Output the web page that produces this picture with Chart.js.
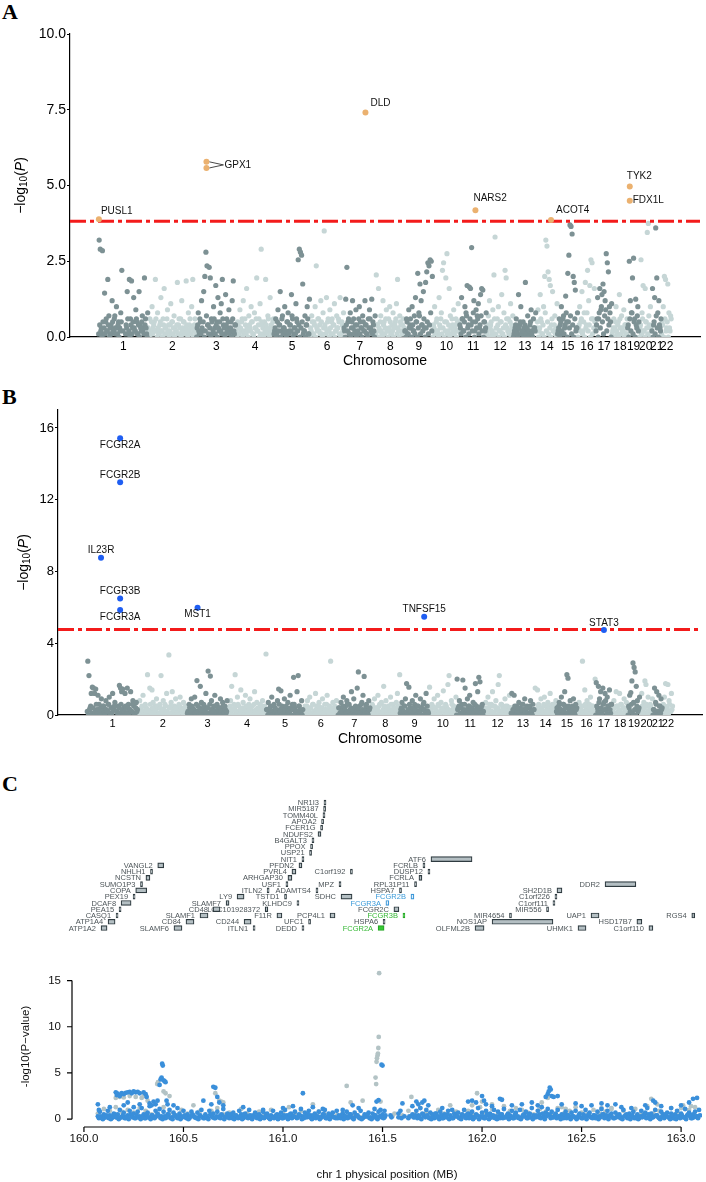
<!DOCTYPE html>
<html>
<head>
<meta charset="utf-8">
<script src="https://cdn.jsdelivr.net/npm/chart.js@4.4.1/dist/chart.umd.min.js"></script>
<style>
  body { margin: 0; background: #fff; }
  #wrap { position: relative; width: 706px; height: 1182px; overflow: hidden; background: #fff; }
  #wrap canvas { position: absolute; left: 0; }
  .tag { position: absolute; left: 2px; font: bold 22px "Liberation Serif", serif; line-height: 22px; color: #000; }
</style>
</head>
<body>
<div id="wrap">
  <div class="tag" style="top:1px">A</div>
  <div class="tag" style="top:386px">B</div>
  <div class="tag" style="top:773px">C</div>
  <canvas id="chartA" width="706" height="372" style="top:0"></canvas>
  <canvas id="chartB" width="706" height="370" style="top:380px"></canvas>
  <canvas id="chartGenes" width="706" height="150" style="top:790px"></canvas>
  <canvas id="chartC" width="706" height="232" style="top:950px"></canvas>
</div>
<script>
// chromosome layout (hg19 lengths, Mb)
const chromNames = ['1','2','3','4','5','6','7','8','9','10','11','12','13','14','15','16','17','18','19','20','21','22']
const chromLenMb = [249.3,243.2,198.0,191.2,180.9,171.1,159.1,146.4,141.2,135.5,135.0,133.9,115.2,107.3,102.5,90.4,81.2,78.1,59.1,63.0,48.1,51.3]
const genomeMin = -144
const genomeMax = 3023

// panel A : -log10(P) of SNPs, per chromosome, in genome order
const bgA = [
  [3.2,2.9,0.3,2.85,0.1,1.45,0.5,0.2,1.9,0.7,0.1,0.4,1.2,0.2,0.6,0.3,1.0,0.1,0.5,0.3,0.8,2.2,0.2,null,null,0.4,1.5,0.1,1.9,0.6,1.85,0.3,1.3,0.2,0.9,0.5,0.1,1.5,0.4,0.2,0.7,0.3,1.95,0.6,0.1,0.8],
  [0.2,0.6,0.1,1.0,0.3,0.5,1.9,0.2,0.8,0.1,0.4,1.3,0.2,0.6,1.6,0.3,0.1,0.9,0.4,0.2,1.1,0.5,0.1,0.7,0.3,0.2,1.8,0.4,0.1,0.6,1.2,0.3,0.5,0.2,1.85,0.1,0.8,0.4,0.3,1.0,1.9,0.2,0.6,0.1],
  [0.3,0.8,0.1,0.5,1.2,0.2,1.5,2.0,2.8,2.35,0.4,2.3,1.95,0.6,0.1,1.0,0.3,1.7,0.5,1.3,0.2,0.8,1.1,1.9,0.4,0.1,1.4,0.6,0.3,0.9,0.2,0.5,1.2,1.85,0.1,0.4],
  [0.1,0.5,0.3,0.9,0.2,0.6,1.2,0.1,0.4,1.6,0.2,0.7,0.3,1.0,0.5,0.1,0.8,0.3,1.95,0.2,0.6,1.1,2.9,0.4,0.1,0.5,1.9,0.3,0.7,0.2,1.3,0.4,0.1,0.6],
  [0.2,0.6,0.1,0.9,0.4,1.5,0.2,0.7,0.3,1.0,0.1,0.5,0.8,0.2,0.4,1.4,0.6,0.1,0.3,1.1,0.5,2.55,2.9,2.8,2.7,1.75,0.2,0.7,0.4,1.0,0.1,1.25],
  [0.3,0.7,0.1,0.5,1.0,2.35,0.2,0.6,0.4,1.2,0.1,0.8,3.5,0.3,1.3,0.5,0.2,0.9,0.1,0.6,0.4,1.1,0.2,0.7,0.3,0.5,1.3,0.1,0.4,0.8],
  [0.2,1.25,2.3,0.5,0.1,0.8,0.3,1.2,0.6,0.2,0.9,0.4,0.1,1.0,0.5,0.3,0.7,0.2,1.2,0.4,0.1,0.6,0.9,0.3,1.25,0.5,0.2,0.7],
  [2.05,0.4,1.6,0.2,0.7,0.1,1.2,0.5,0.3,0.9,0.2,0.6,1.0,0.1,0.4,0.8,0.3,0.5,1.1,1.9,0.2,0.7,0.4,0.1,0.6,0.3],
  [0.2,0.6,0.1,0.9,0.4,0.3,1.0,0.2,0.7,1.3,0.5,2.1,0.8,1.75,1.2,0.4,1.5,0.3,1.8,2.15,2.45,2.35,2.55,2.5,2.0],
  [0.4,1.0,0.2,0.6,0.1,1.3,0.3,0.8,2.2,2.45,0.5,1.95,2.75,0.2,1.6,0.7,0.1,0.4,0.9,0.3,0.6,0.2,1.1,0.5],
  [0.3,1.3,0.6,0.2,1.0,0.8,1.7,0.4,1.65,1.6,2.95,0.5,1.2,0.2,0.9,0.7,1.1,0.3,1.4,1.6,1.55,0.5,0.2,0.8],
  [0.2,0.7,1.2,0.4,0.1,0.9,2.05,3.3,0.3,0.6,1.0,0.2,0.5,1.4,0.1,0.8,2.2,1.95,0.3,0.6,0.2,1.1,0.4,0.7],
  [0.1,0.3,0.6,0.2,1.4,0.4,1.0,0.1,0.5,0.3,1.8,0.2,0.7,0.1,0.4,0.9,0.2,0.6,0.3,0.8],
  [0.3,0.9,0.2,1.4,0.5,0.1,1.0,2.0,3.2,3.0,2.15,1.9,1.7,0.4,1.5,0.2,0.7,0.3,1.1],
  [0.2,0.6,0.4,1.0,0.1,0.7,0.3,1.35,0.5,2.1,2.7,3.7,3.65,3.4,2.0,1.8,1.55,0.3,0.8],
  [0.3,1.0,0.5,1.5,0.2,0.8,1.8,0.4,2.2,1.2,1.7,2.55,2.45,0.6,1.6,0.3],
  [0.4,1.3,0.6,1.6,0.9,1.4,1.75,1.5,1.2,2.75,2.45,2.15,1.0,0.5,1.1],
  [0.2,0.6,0.3,1.0,0.1,0.5,1.4,0.3,0.7,0.2,0.9,0.4,0.1,0.6],
  [0.4,2.5,1.2,0.8,1.95,2.6,0.6,1.25,0.3,1.0,0.5],
  [0.3,2.55,0.8,1.7,0.2,1.6,0.5,3.45,3.75,0.4,1.0,0.2],
  [1.6,0.4,1.3,3.6,1.95,0.8,1.2,0.3,0.6],
  [0.5,1.0,2.0,1.9,0.3,1.75,0.8,0.2,0.6]
]
// the many weak SNPs that form the solid bottom band
const lowA = [
  [0.1,0.4,0.2,0.0,0.5,0.3,0.1,0.6,0.2,0.4,0.0,0.3,0.1,0.5,0.2,0.7,0.1,0.3,0.4,0.0,0.2,0.5,null,null,null,0.1,0.3,0.6,0.2,0.0,0.4,0.1,0.5,0.3,0.2,0.6,0.1,0.4,0.0,0.3,0.5,0.2,0.1,0.4,0.3,0.0],
  [0.3,0.0,0.2,0.5,0.1,0.4,0.2,0.6,0.0,0.3,0.1,0.5,0.2,0.0,0.4,0.1,0.3,0.6,0.2,0.0,0.4,0.1,0.5,0.3,0.0,0.2,0.4,0.1,0.6,0.3,0.0,0.2,0.5,0.1,0.3,0.4,0.0,0.2,0.6,0.1,0.3,0.0,0.4,0.2],
  [0.0,0.4,0.2,0.6,0.1,0.3,0.5,0.0,0.2,0.7,0.4,0.1,0.3,0.0,0.5,0.2,0.6,0.1,0.4,0.0,0.3,0.5,0.2,0.1,0.6,0.3,0.0,0.4,0.2,0.5,0.1,0.3,0.0,0.6,0.2,0.4],
  [0.2,0.0,0.4,0.1,0.3,0.5,0.0,0.2,0.6,0.1,0.3,0.0,0.4,0.2,0.5,0.1,0.0,0.3,0.6,0.2,0.4,0.0,0.1,0.5,0.3,0.0,0.2,0.4,0.1,0.6,0.0,0.3,0.2,0.5],
  [0.1,0.3,0.0,0.5,0.2,0.4,0.0,0.6,0.1,0.3,0.2,0.0,0.5,0.1,0.4,0.2,0.7,0.0,0.3,0.1,0.6,0.2,0.4,0.0,0.3,0.5,0.1,0.2,0.0,0.4,0.6,0.1],
  [0.0,0.2,0.5,0.1,0.4,0.0,0.3,0.6,0.2,0.1,0.5,0.0,0.3,0.4,0.1,0.2,0.6,0.0,0.3,0.5,0.1,0.4,0.0,0.2,0.3,0.6,0.1,0.0,0.5,0.2],
  [0.3,0.0,0.4,0.2,0.6,0.1,0.0,0.5,0.3,0.1,0.4,0.0,0.2,0.6,0.1,0.3,0.0,0.5,0.2,0.4,0.1,0.0,0.3,0.6,0.2,0.1,0.4,0.0],
  [0.1,0.4,0.0,0.3,0.5,0.2,0.0,0.4,0.1,0.6,0.2,0.0,0.3,0.5,0.1,0.2,0.0,0.4,0.6,0.1,0.3,0.0,0.5,0.2,0.4,0.1],
  [0.2,0.0,0.5,0.1,0.3,0.6,0.0,0.4,0.2,0.1,0.5,0.0,0.3,0.7,0.1,0.4,0.2,0.6,0.0,0.3,0.5,0.1,0.4,0.8,0.2],
  [0.0,0.3,0.1,0.5,0.2,0.0,0.4,0.6,0.1,0.3,0.0,0.2,0.5,0.1,0.4,0.0,0.3,0.6,0.2,0.1,0.4,0.0,0.5,0.2],
  [0.4,0.1,0.6,0.2,0.5,0.0,0.7,0.3,0.1,0.6,0.4,0.2,0.8,0.0,0.5,0.3,0.6,0.1,0.4,0.7,0.2,0.0,0.5,0.3],
  [0.1,0.4,0.0,0.3,0.5,0.2,0.0,0.6,0.1,0.3,0.4,0.0,0.2,0.5,0.1,0.3,0.0,0.4,0.6,0.2,0.1,0.5,0.0,0.3],
  [0.0,0.2,0.4,0.1,0.0,0.3,0.5,0.1,0.2,0.0,0.4,0.1,0.3,0.0,0.2,0.5,0.1,0.0,0.3,0.2],
  [0.2,0.5,0.0,0.3,0.6,0.1,0.4,0.0,0.8,0.2,0.5,0.1,0.3,0.0,0.6,0.2,0.4,0.1,0.0],
  [0.1,0.3,0.0,0.5,0.2,0.6,0.1,0.4,0.8,0.0,0.5,0.3,0.7,0.1,0.4,0.0,0.6,0.2,0.3],
  [0.0,0.4,0.2,0.6,0.1,0.5,0.0,0.3,0.8,0.2,0.4,0.0,0.6,0.1,0.3,0.5],
  [0.2,0.6,0.0,0.8,0.3,1.0,0.5,0.1,0.7,0.9,0.2,0.6,0.4,0.8,0.0],
  [0.1,0.3,0.0,0.5,0.2,0.4,0.0,0.6,0.1,0.3,0.2,0.0,0.4,0.1],
  [0.3,0.0,0.6,0.2,0.8,0.1,0.5,0.0,0.4,0.7,0.2],
  [0.0,0.4,0.1,0.6,0.2,0.0,0.5,0.3,0.1,0.7,0.0,0.3],
  [0.2,0.0,0.5,0.1,0.7,0.3,0.0,0.4,0.2],
  [0.1,0.4,0.0,0.6,0.2,0.5,0.0,0.3,0.7]
]
const hitGenesA = ['PUSL1','GPX1','GPX1','DLD','NARS2','ACOT4','TYK2','FDX1L']
const hitChromA = [1,3,3,7,11,14,19,19]
const hitPosA = [1.2,49.4,49.4,107.5,78.1,74.1,10.5,10.4]
const hitLogPA = [3.89,5.78,5.58,7.41,4.18,3.86,4.97,4.50]
const thresholdA = 3.82

// panel B
const bgB = [
  [3.0,2.2,0.4,1.2,1.55,1.5,1.2,1.45,0.3,1.1,0.6,0.2,0.9,0.1,0.5,0.3,0.8,0.2,0.6,1.0,0.1,0.4,1.2,0.3,0.7,null,0.2,0.5,1.65,1.5,1.3,1.45,0.4,1.2,0.1,1.5,0.6,0.3,1.3,0.2,0.8,0.5,0.1,0.7,0.3],
  [0.3,0.8,0.1,0.5,1.1,0.2,0.6,0.4,2.25,0.1,1.5,0.3,1.4,0.7,0.2,0.5,0.9,0.1,0.4,0.6,2.2,0.3,0.8,0.2,0.5,1.2,0.1,3.35,0.4,0.7,1.3,0.2,0.5,0.9,0.3,0.1,0.6,1.0,0.4,0.2,0.7,0.3,0.5,0.1],
  [0.2,0.6,0.1,0.9,0.4,0.3,1.0,0.2,1.92,0.5,0.1,1.6,0.7,0.3,0.6,0.2,1.2,0.4,2.45,0.1,2.17,0.8,0.3,0.5,1.1,0.2,0.6,0.1,0.4,0.9,0.3,0.7,0.2,0.5,0.1,0.8],
  [0.4,0.1,0.8,1.6,0.3,0.6,2.25,0.2,1.0,0.5,0.1,1.4,0.3,0.7,0.2,1.1,0.4,0.1,0.6,0.9,0.3,0.5,0.2,1.3,0.1,0.7,0.4,0.2,0.6,0.3,0.8,0.1,0.5,3.4],
  [0.3,0.7,0.1,0.5,1.0,0.2,0.6,0.4,0.1,0.8,1.45,0.3,1.35,0.5,0.2,0.9,0.1,0.4,0.7,0.2,1.1,0.3,0.6,2.1,0.4,0.2,1.3,2.2,0.5,0.1,0.8,0.3],
  [0.2,0.5,0.1,0.8,0.3,1.0,0.4,0.1,0.6,0.2,1.2,0.5,0.3,0.7,0.1,0.4,0.9,0.2,0.6,0.3,1.1,0.1,0.5,3.0,0.2,0.7,0.4,0.1,0.8,0.3],
  [0.4,0.1,0.7,0.3,1.0,0.2,0.5,0.8,0.1,0.6,0.3,1.3,0.2,0.9,0.4,0.1,1.5,2.4,0.5,0.2,0.7,1.1,2.15,0.3,0.6,0.1,0.8,0.4],
  [0.2,0.6,0.1,0.9,0.4,0.3,1.1,0.5,0.1,0.7,0.2,1.6,0.4,0.8,0.1,0.5,0.3,1.0,0.2,0.6,0.4,0.1,0.7,1.2,0.3,2.25],
  [0.3,0.7,0.1,0.5,0.9,1.75,0.2,1.55,0.4,0.1,0.8,0.3,0.6,1.1,0.2,0.5,0.1,0.9,0.4,0.3,0.7,0.2,1.2,0.5,0.1],
  [1.55,0.3,0.6,0.1,0.9,0.4,0.2,1.1,0.5,0.1,0.7,0.3,1.35,0.2,0.6,0.4,1.7,2.2,0.1,0.8,0.3,0.5,0.2,1.0],
  [2.0,0.4,0.8,0.1,0.6,1.95,0.3,1.5,0.2,0.9,0.5,1.1,0.1,0.4,0.7,0.2,1.75,0.5,1.3,2.1,1.85,0.3,0.6,0.2],
  [0.3,0.7,0.1,1.0,0.4,0.2,0.6,1.3,0.1,0.5,0.8,0.3,1.7,2.2,0.2,0.6,0.4,0.1,0.9,0.3,0.5,0.2,1.1,0.4],
  [1.2,0.3,1.1,0.1,0.5,0.2,0.7,0.4,0.1,0.6,0.3,0.9,0.2,0.5,0.1,0.4,0.8,0.2,0.6,0.3],
  [1.5,0.3,1.4,0.6,0.1,0.9,0.4,0.2,1.0,0.5,0.1,0.7,0.3,1.2,0.2,0.6,0.4,0.1,0.8],
  [0.4,0.1,0.7,0.3,1.0,0.2,0.6,1.3,0.5,2.25,2.05,0.3,0.8,0.1,0.5,0.9,0.2,0.6,0.4],
  [0.3,0.7,0.1,0.5,3.0,0.2,1.4,0.4,0.8,0.1,0.6,1.0,0.3,0.5,0.2,2.0],
  [1.8,0.4,1.6,0.9,1.3,0.2,1.5,0.7,1.2,0.3,1.0,0.5,1.4,0.1,0.6],
  [0.3,0.8,0.1,1.3,0.5,0.2,1.2,0.6,0.1,0.4,0.9,0.2,0.7,0.3],
  [0.5,1.1,1.25,1.9,2.9,2.65,2.4,1.6,0.8,0.3,1.0],
  [0.4,1.2,0.2,0.7,1.9,1.7,0.5,1.0,0.1,0.6,0.3,0.9],
  [0.3,1.5,0.7,1.3,0.2,1.1,0.5,0.9,0.4],
  [0.6,1.0,1.75,0.3,1.7,0.8,0.2,1.2,0.5]
]
const lowB = [
  [0.2,0.0,0.3,0.5,0.1,0.4,0.0,0.2,0.6,0.1,0.3,0.0,0.4,0.2,0.5,0.1,0.0,0.3,0.2,0.6,0.0,0.4,0.1,0.3,0.5,null,0.2,0.0,0.4,0.1,0.6,0.3,0.0,0.2,0.5,0.1,0.4,0.0,0.3,0.2,0.6,0.1,0.0,0.4,0.2],
  [0.0,0.3,0.1,0.4,0.2,0.0,0.5,0.1,0.3,0.0,0.2,0.6,0.1,0.4,0.0,0.3,0.2,0.5,0.0,0.1,0.4,0.2,0.0,0.3,0.6,0.1,0.2,0.0,0.4,0.5,0.1,0.3,0.0,0.2,0.4,0.1,0.0,0.5,0.3,0.2,0.0,0.4,0.1,0.3],
  [0.1,0.0,0.4,0.2,0.5,0.0,0.3,0.1,0.6,0.2,0.0,0.4,0.1,0.3,0.0,0.5,0.2,0.1,0.4,0.0,0.6,0.3,0.1,0.0,0.2,0.5,0.1,0.3,0.0,0.4,0.2,0.0,0.5,0.1,0.3,0.2],
  [0.0,0.2,0.5,0.1,0.3,0.0,0.4,0.2,0.1,0.6,0.0,0.3,0.2,0.4,0.0,0.1,0.5,0.2,0.0,0.3,0.4,0.1,0.0,0.6,0.2,0.3,0.1,0.0,0.4,0.2,0.5,0.0,0.1,0.3],
  [0.3,0.0,0.2,0.4,0.1,0.0,0.5,0.2,0.3,0.0,0.1,0.6,0.2,0.0,0.4,0.1,0.3,0.5,0.0,0.2,0.1,0.4,0.0,0.3,0.6,0.1,0.2,0.0,0.5,0.3,0.1,0.0],
  [0.1,0.3,0.0,0.5,0.2,0.0,0.4,0.1,0.6,0.2,0.0,0.3,0.1,0.5,0.0,0.2,0.4,0.1,0.0,0.3,0.6,0.2,0.0,0.4,0.1,0.3,0.0,0.5,0.2,0.1],
  [0.0,0.4,0.1,0.2,0.5,0.0,0.3,0.1,0.6,0.2,0.0,0.4,0.3,0.1,0.0,0.5,0.2,0.4,0.0,0.1,0.6,0.3,0.0,0.2,0.5,0.1,0.0,0.3],
  [0.2,0.0,0.5,0.1,0.3,0.0,0.4,0.2,0.6,0.0,0.1,0.3,0.5,0.0,0.2,0.4,0.1,0.0,0.6,0.3,0.1,0.0,0.4,0.2,0.5,0.0],
  [0.1,0.4,0.0,0.2,0.5,0.1,0.0,0.3,0.6,0.2,0.0,0.4,0.1,0.3,0.0,0.5,0.2,0.1,0.4,0.0,0.6,0.3,0.1,0.0,0.2],
  [0.3,0.0,0.2,0.5,0.1,0.4,0.0,0.2,0.6,0.1,0.0,0.3,0.4,0.2,0.0,0.5,0.1,0.3,0.0,0.2,0.6,0.1,0.4,0.0],
  [0.0,0.3,0.5,0.1,0.4,0.0,0.2,0.6,0.1,0.3,0.0,0.5,0.2,0.4,0.0,0.1,0.6,0.3,0.0,0.2,0.4,0.1,0.5,0.0],
  [0.2,0.0,0.4,0.1,0.3,0.6,0.0,0.2,0.5,0.1,0.0,0.3,0.4,0.1,0.0,0.6,0.2,0.3,0.0,0.5,0.1,0.2,0.0,0.4],
  [0.1,0.0,0.3,0.5,0.0,0.2,0.4,0.1,0.0,0.3,0.6,0.0,0.2,0.4,0.1,0.0,0.5,0.2,0.0,0.3],
  [0.0,0.3,0.1,0.5,0.2,0.0,0.4,0.1,0.6,0.0,0.2,0.3,0.5,0.1,0.0,0.4,0.2,0.6,0.1],
  [0.2,0.0,0.5,0.1,0.3,0.0,0.6,0.2,0.4,0.0,0.1,0.5,0.3,0.0,0.2,0.4,0.1,0.0,0.3],
  [0.1,0.4,0.0,0.3,0.5,0.1,0.0,0.6,0.2,0.0,0.4,0.1,0.3,0.5,0.0,0.2],
  [0.0,0.5,0.2,0.7,0.1,0.4,0.0,0.6,0.3,0.8,0.1,0.5,0.0,0.3,0.6],
  [0.2,0.0,0.4,0.1,0.5,0.0,0.3,0.2,0.6,0.0,0.1,0.4,0.2,0.0],
  [0.0,0.4,0.2,0.6,0.1,0.7,0.3,0.0,0.5,0.2,0.4],
  [0.3,0.0,0.5,0.1,0.4,0.0,0.6,0.2,0.0,0.3,0.5,0.1],
  [0.0,0.3,0.1,0.6,0.2,0.0,0.5,0.1,0.3],
  [0.2,0.0,0.5,0.1,0.4,0.0,0.6,0.2,0.3]
]
const hitGenesB = ['FCGR2A','FCGR2B','IL23R','FCGR3B','FCGR3A','MST1','TNFSF15','STAT3']
const hitChromB = [1,1,1,1,1,3,9,17]
const hitPosB = [161.5,161.6,67.6,161.6,161.5,49.7,117.6,40.5]
const hitLogPB = [15.42,12.97,8.77,6.50,5.85,5.98,5.48,4.74]
const thresholdB = 4.77

// panel C : regional plot, chr1 160-163 Mb
const xTicksC = [160.0,160.5,161.0,161.5,162.0,162.5,163.0]
const yTicksC = [0,5,10,15]
const bandStartC = 160.07
const bandBlueStep = 0.01
const bandBlue = [
  0.3,0.8,0.1,0.5,0.2,0.9,0.4,0.1,0.6,0.2, 0.5,1.0,0.2,0.7,0.1,0.4,0.9,0.3,0.6,0.1,
  0.8,0.3,1.2,0.5,0.1,0.7,1.4,0.4,0.2,0.9, 0.6,1.1,0.3,0.8,0.1,0.5,1.0,0.2,0.7,0.4,
  0.1,0.6,0.3,0.9,0.2,0.5,0.1,0.8,0.4,0.2, 0.7,0.3,1.0,0.1,0.5,0.2,0.9,0.4,0.6,0.1,
  0.8,0.3,0.5,1.1,0.2,0.6,0.1,0.4,0.7,0.3, 0.2,0.9,0.5,0.1,0.6,0.3,1.0,0.2,0.4,0.7,
  0.1,0.5,0.3,0.8,0.2,0.6,0.1,0.4,0.9,0.3, 0.5,0.2,0.7,0.1,1.0,0.4,0.2,0.6,0.3,0.8,
  0.1,0.5,1.1,0.3,0.7,0.2,0.9,0.4,0.1,0.6, 0.3,0.8,0.2,0.5,1.0,0.1,0.6,0.3,0.7,0.2,
  0.9,0.4,0.1,0.6,0.3,0.8,0.2,0.5,0.1,0.7, 0.4,0.2,0.9,0.1,0.5,0.3,0.7,0.2,0.6,0.4,
  0.1,0.8,0.3,0.5,0.2,null,null,0.4,null,null, null,0.2,null,null,0.3,null,0.1,null,0.5,0.2,
  0.9,0.4,1.2,0.6,0.3,1.0,0.2,0.7,0.5,0.1, 0.6,0.3,0.8,0.1,0.5,0.2,0.9,0.4,0.1,0.6,
  0.3,0.7,0.2,0.5,1.0,0.1,0.6,0.4,0.8,0.2, 0.5,1.2,0.3,0.7,0.1,0.9,0.4,0.6,0.2,1.0,
  0.3,0.8,0.1,0.5,1.1,0.2,0.6,0.4,0.9,0.1, 0.7,0.3,1.0,0.2,0.5,0.8,0.1,0.6,1.2,0.4,
  0.2,0.9,0.5,1.3,0.3,0.7,1.1,0.4,0.8,0.2, 0.6,1.0,0.3,0.5,0.1,0.8,0.4,0.2,0.7,0.3,
  0.9,0.2,0.6,0.1,0.5,1.0,0.3,0.7,0.2,0.4, 0.1,0.8,0.3,1.1,0.5,0.2,0.9,0.4,0.6,0.1,
  0.7,0.3,0.5,0.2,1.0,0.4,0.1,0.6,0.3,0.8, 0.2,0.5,0.1,0.9,0.4,0.7,1.2,0.3,0.6,0.2,
  1.0,0.4,0.1,0.8,0.5,0.3,0.7,0.2,0.6,0.1, 0.5,0.9,0.3,0.6,0.2,1.1,0.4,0.7,0.1,0.5,
  0.8,0.3,1.0
]
// second, weaker set of SNPs sitting between the ones above
const bandBlueLowStart = 160.075
const bandBlueLow = [
  0.1,0.3,0.0,0.2,0.4,0.1,0.0,0.3,0.5,0.2, 0.0,0.2,0.4,0.1,0.3,0.0,0.5,0.2,0.1,0.4,
  0.2,0.0,0.3,0.1,0.5,0.2,0.0,0.4,0.1,0.3, 0.4,0.1,0.0,0.3,0.2,0.5,0.1,0.0,0.4,0.2,
  0.3,0.0,0.2,0.4,0.1,0.0,0.3,0.5,0.2,0.1, 0.0,0.4,0.2,0.1,0.3,0.0,0.5,0.2,0.1,0.3,
  0.2,0.1,0.4,0.0,0.3,0.2,0.5,0.1,0.0,0.4, 0.1,0.3,0.0,0.5,0.2,0.1,0.4,0.0,0.3,0.2,
  0.4,0.0,0.2,0.1,0.5,0.3,0.0,0.2,0.1,0.4, 0.0,0.3,0.1,0.4,0.2,0.0,0.5,0.1,0.3,0.2,
  0.2,0.4,0.0,0.1,0.3,0.5,0.2,0.0,0.4,0.1, 0.3,0.0,0.2,0.5,0.1,0.3,0.0,0.4,0.2,0.1,
  0.1,0.2,0.4,0.0,0.3,0.1,0.5,0.2,0.0,0.3, 0.4,0.1,0.0,0.2,0.3,0.5,0.1,0.0,0.2,0.4,
  0.0,0.3,0.2,0.1,0.4,null,null,0.2,null,null, null,null,0.1,null,null,null,0.3,null,0.2,0.4,
  0.1,0.3,0.0,0.5,0.2,0.4,0.1,0.0,0.3,0.6, 0.2,0.0,0.4,0.1,0.3,0.5,0.0,0.2,0.1,0.4,
  0.3,0.1,0.0,0.4,0.2,0.5,0.1,0.3,0.0,0.2, 0.4,0.0,0.2,0.3,0.1,0.5,0.0,0.2,0.4,0.1,
  0.0,0.3,0.5,0.1,0.2,0.4,0.0,0.3,0.1,0.5, 0.2,0.1,0.0,0.4,0.3,0.1,0.5,0.2,0.0,0.3,
  0.4,0.2,0.1,0.6,0.0,0.3,0.5,0.1,0.2,0.4, 0.1,0.3,0.0,0.2,0.5,0.1,0.4,0.0,0.3,0.2,
  0.0,0.4,0.2,0.1,0.3,0.0,0.5,0.2,0.1,0.4, 0.3,0.0,0.2,0.5,0.1,0.4,0.0,0.3,0.2,0.1,
  0.2,0.4,0.1,0.0,0.3,0.5,0.2,0.0,0.4,0.1, 0.1,0.0,0.3,0.2,0.4,0.1,0.5,0.0,0.2,0.3,
  0.4,0.2,0.0,0.3,0.1,0.5,0.2,0.0,0.4,0.1, 0.0,0.3,0.1,0.4,0.2,0.0,0.5,0.3,0.1,0.2,
  0.3,0.1,0.4
]
const bandGrayStep = 0.03
const bandGray = [
  0.6,1.1,0.9,1.3,0.8,1.0,0.7,1.2,0.9,0.5,
  0.5,1.3,0.7,0.4,1.0,0.6,1.5,0.8,0.3,0.9,
  1.2,0.5,0.7,0.4,1.1,0.6,0.3,0.8,0.5,1.0,
  0.4,0.7,1.3,0.6,0.9,0.3,1.6,0.8,0.5,0.2,
  0.4,0.6,0.3,0.5,0.2,0.3,null,null,0.2,null,
  null,0.4,0.9,0.5,1.2,0.7,0.4,1.0,0.6,1.5,
  0.8,0.5,0.9,0.4,1.3,0.7,1.1,0.6,1.4,0.9,
  1.2,1.0,0.7,0.5,1.1,0.8,0.4,1.2,0.6,0.9,
  1.3,0.7,0.5,1.0,0.6,0.8,1.2,0.5,0.9,0.4,
  1.1,0.7,1.4,0.6,0.9,0.5,1.2,0.8,1.5,1.0,
  1.3
]
const peakBlueX = [160.07,160.075,160.13,160.16,160.165,160.17,160.18,160.19,160.2,160.21,160.22,160.23,160.24,160.25,160.26,160.27,160.28,160.3,160.31,160.315,160.2,160.22,160.25,160.28,160.33,160.34,160.35,160.36,160.37,160.38,160.385,160.39,160.393,160.396,160.4,160.405,160.41,160.415,160.42,160.45,160.47,160.6,160.64,160.65,160.66,160.67,160.68,160.7,160.8,160.9,161.0,161.05,161.1,161.15,161.2,161.3,161.35,161.38,161.46,161.47,161.48,161.49,161.495,161.5,161.51,161.58,161.59,161.6,161.65,161.67,161.68,161.7,161.71,161.73,161.8,161.85,161.93,161.95,161.97,162.0,162.01,162.02,162.05,162.09,162.1,162.15,162.2,162.25,162.28,162.32,162.33,162.335,162.34,162.345,162.35,162.36,162.38,162.4,162.47,162.5,162.55,162.6,162.63,162.67,162.7,162.75,162.82,162.86,162.87,162.9,162.95,163.0,163.04,163.06,163.08]
const peakBlueY = [1.6,1.0,1.3,2.9,2.6,2.75,2.5,2.8,2.7,2.85,2.9,2.95,2.8,3.0,2.9,2.95,2.8,2.9,2.7,2.4,1.5,1.8,1.3,1.6,1.7,1.5,1.9,1.6,2.0,3.7,4.3,4.5,6.0,5.8,4.2,4.1,4.0,2.0,1.6,1.5,1.2,2.0,1.6,3.5,3.4,2.4,1.8,1.5,1.3,1.0,1.2,1.4,2.8,1.3,1.1,1.0,1.5,1.2,1.1,1.9,2.05,1.0,5.9,5.8,0.9,0.6,0.9,1.7,1.4,1.9,1.6,1.8,2.0,1.5,1.2,1.0,1.9,2.0,1.8,2.5,2.0,1.6,1.4,2.2,2.1,1.5,1.6,1.8,1.5,2.4,2.7,3.0,3.4,3.2,2.5,2.4,2.5,1.6,1.7,1.4,1.5,1.7,1.5,1.6,1.3,1.2,1.5,2.0,1.8,1.4,1.2,1.5,1.8,2.2,2.3]
const peakGrayX = [160.16,160.18,160.2,160.23,160.26,160.29,160.3,160.32,160.368,160.372,160.4,160.41,160.43,160.66,160.68,160.69,160.7,161.32,161.34,161.4,161.465,161.468,161.47,161.472,161.475,161.477,161.479,161.481,161.483,161.49,161.55,161.56,161.645,161.95,161.975,162.0,162.05,162.3,162.33,162.4,162.42,162.6,162.65,162.85,162.88,163.0,163.05]
const peakGrayY = [2.3,2.4,2.35,2.5,2.4,2.3,2.5,2.0,3.8,4.0,3.0,2.8,2.5,2.8,2.0,1.9,1.8,3.6,1.8,2.0,4.5,3.8,6.2,6.6,6.9,7.1,7.7,8.9,15.8,1.9,0.3,0.6,2.4,1.5,2.8,1.9,1.6,1.8,2.3,1.3,1.1,1.2,1.1,2.2,1.6,1.2,1.4]

// gene track (Mb) and stacking row
const geneNames = ['ATP1A2','SLAMF6','ITLN1','DEDD','FCGR2A','OLFML2B','UHMK1','C1orf110',
  'ATP1A4','CD84','CD244','UFC1','HSPA6','NOS1AP','HSD17B7',
  'CASQ1','SLAMF1','F11R','PCP4L1','FCGR3B','MIR4654','UAP1','RGS4',
  'PEA15','CD48','LOC101928372','FCGR2C','MIR556',
  'DCAF8','SLAMF7','KLHDC9','FCGR3A','C1orf111',
  'PEX19','LY9','TSTD1','SDHC','FCGR2B','C1orf226',
  'COPA','ITLN2','ADAMTS4','HSPA7','SH2D1B',
  'SUMO1P3','USF1','MPZ','RPL31P11','DDR2',
  'NCSTN','ARHGAP30','FCRLA',
  'NHLH1','PVRL4','C1orf192','DUSP12',
  'VANGL2','PFDN2','FCRLB',
  'NIT1','ATF6',
  'USP21','PPOX','B4GALT3','NDUFS2','FCER1G','APOA2','TOMM40L','MIR5187','NR1I3']
const geneStart = [160.085,160.449,160.844,161.088,161.468,161.952,162.466,162.820,
  160.120,160.509,160.799,161.121,161.493,162.037,162.760,
  160.160,160.579,160.963,161.228,161.592,162.124,162.531,163.034,
  160.175,160.644,160.904,161.547,162.309,
  160.185,160.709,161.063,161.507,162.341,
  160.245,160.764,161.001,161.283,161.632,162.351,
  160.258,160.914,161.158,161.575,162.361,
  160.282,161.008,161.273,161.650,162.601,
  160.309,161.018,161.672,
  160.332,161.038,161.330,161.717,
  160.368,161.073,161.692,
  161.088,161.732,
  161.126,161.131,161.138,161.168,161.181,161.186,161.193,161.196,161.198]
const geneEnd = [160.115,160.489,160.854,161.098,161.498,161.997,162.506,162.840,
  160.155,160.549,160.834,161.128,161.500,162.341,162.785,
  160.170,160.619,160.988,161.253,161.602,162.129,162.571,163.049,
  160.185,160.679,160.918,161.572,162.314,
  160.235,160.724,161.073,161.522,162.351,
  160.255,160.799,161.008,161.338,161.647,162.361,
  160.313,160.924,161.166,161.582,162.386,
  160.287,161.016,161.283,161.657,162.755,
  160.329,161.038,161.687,
  160.342,161.058,161.338,161.727,
  160.398,161.088,161.702,
  161.096,161.937,
  161.133,161.138,161.148,161.183,161.188,161.193,161.203,161.203,161.208]
const geneRow = [0,0,0,0,0,0,0,0, 1,1,1,1,1,1,1, 2,2,2,2,2,2,2,2, 3,3,3,3,3, 4,4,4,4,4,
  5,5,5,5,5,5, 6,6,6,6,6, 7,7,7,7,7, 8,8,8, 9,9,9,9, 10,10,10, 11,11,
  12,13,14,15,16,17,18,19,20]
const blueGenes = ['FCGR3A','FCGR2B']
const greenGenes = ['FCGR3B','FCGR2A']

// ---------- styles ----------
const darkGray = '#7d9194'
const lightGray = '#c6d6d6'
const redLine = '#f31b1b'
const sans = '"Liberation Sans", Arial, sans-serif'

const chromStart = []
let acc = 0
chromLenMb.forEach(l => { chromStart.push(acc); acc += l })

// spread each chromosome's SNPs along its length, in order
function manhattanPoints(vals, oddChrom, phase) {
  const pts = []
  vals.forEach((arr, c) => {
    if ((c % 2 === 0) !== oddChrom) return
    arr.forEach((v, j) => {
      if (v === null) return
      pts.push({ x: chromStart[c] + (j + phase) / arr.length * chromLenMb[c], y: v })
    })
  })
  return pts
}

function hitPoints(chroms, pos, vals) {
  return vals.map((v, i) => ({ x: chromStart[chroms[i] - 1] + pos[i], y: v }))
}

// rotated "-log10(P)" title with subscript and italic P
function logTitlePlugin(cx) {
  return {
    id: 'logTitle',
    afterDraw(chart) {
      const ctx = chart.ctx
      const { top, bottom } = chart.chartArea
      const parts = [
        ['\u2212log', '14px ' + sans, 0],
        ['10', '10px ' + sans, 3],
        ['(', '14px ' + sans, 0],
        ['P', 'italic 14px ' + sans, 0],
        [')', '14px ' + sans, 0]
      ]
      ctx.save()
      let total = 0
      parts.forEach(p => { ctx.font = p[1]; total += ctx.measureText(p[0]).width })
      ctx.translate(cx, (top + bottom) / 2)
      ctx.rotate(-Math.PI / 2)
      ctx.fillStyle = '#000'
      ctx.textBaseline = 'middle'
      let x = -total / 2
      parts.forEach(p => {
        ctx.font = p[1]
        ctx.fillText(p[0], x, p[2])
        x += ctx.measureText(p[0]).width
      })
      ctx.restore()
    }
  }
}

function hitLabelPlugin(names, offsets, align, leaders) {
  return {
    id: 'hitLabels',
    afterDatasetsDraw(chart) {
      const ctx = chart.ctx
      const pts = chart.getDatasetMeta(0).data
      const done = {}
      ctx.save()
      ctx.font = '10px ' + sans
      ctx.fillStyle = '#111'
      ctx.strokeStyle = '#333'
      ctx.lineWidth = 0.9
      ctx.textAlign = align
      ctx.textBaseline = 'middle'
      names.forEach((name, i) => {
        const p = pts[i]
        const same = names.map((n, k) => n === name ? pts[k].y : null).filter(v => v !== null)
        const ly = leaders && leaders[i] ? same.reduce((a, b) => a + b, 0) / same.length : p.y + offsets[i][1]
        const lx = p.x + offsets[i][0]
        if (leaders && leaders[i]) {
          ctx.beginPath()
          ctx.moveTo(p.x + 3, p.y)
          ctx.lineTo(lx - 1, ly)
          ctx.stroke()
        }
        if (done[name]) return
        done[name] = true
        ctx.fillText(name, lx, ly)
      })
      ctx.restore()
    }
  }
}

function makeManhattan(id, o) {
  return new Chart(document.getElementById(id), {
    type: 'scatter',
    data: {
      datasets: [
        { data: o.hits, backgroundColor: o.hitColor, pointRadius: 3, order: 0 },
        { type: 'line', data: [{ x: genomeMin, y: o.threshold }, { x: genomeMax, y: o.threshold }],
          borderColor: redLine, borderWidth: 3, borderDash: [16, 4, 4, 4], pointRadius: 0, order: 1 },
        { data: manhattanPoints(o.bg, true, 0.5).concat(manhattanPoints(o.low, true, 0)),
          backgroundColor: darkGray, pointRadius: 2.6, order: 2 },
        { data: manhattanPoints(o.bg, false, 0.5).concat(manhattanPoints(o.low, false, 0)),
          backgroundColor: lightGray, pointRadius: 2.6, order: 3 }
      ]
    },
    options: {
      responsive: false,
      animation: false,
      events: [],
      layout: { padding: { top: o.padTop, right: o.padRight, left: 0, bottom: 0 } },
      elements: { point: { borderWidth: 0 } },
      plugins: { legend: { display: false }, tooltip: { enabled: false } },
      scales: {
        x: {
          type: 'linear', min: genomeMin, max: genomeMax,
          afterBuildTicks: s => { s.ticks = chromStart.map((st, i) => ({ value: st + chromLenMb[i] / 2 })) },
          afterFit: s => { s.height = o.xAxisH },
          ticks: { autoSkip: false, maxRotation: 0, padding: o.chromPad, color: '#000',
                   font: { family: sans, size: o.chromFont }, callback: (v, i) => chromNames[i] },
          grid: { display: false, drawTicks: false },
          border: { display: true, color: '#000', width: 1.2 },
          title: { display: true, text: 'Chromosome', color: '#000',
                   font: { family: sans, size: 14 }, padding: { top: 0, bottom: o.titlePad } }
        },
        y: {
          type: 'linear', min: 0, max: o.yMax,
          afterBuildTicks: s => { s.ticks = o.yTicks.map(v => ({ value: v })) },
          afterFit: s => { s.width = o.left },
          ticks: { padding: 1, color: '#000', font: { family: sans, size: o.yFont }, callback: o.yFmt },
          grid: { display: true, drawOnChartArea: false, drawTicks: true, tickLength: 3, color: '#000', lineWidth: 1 },
          border: { display: true, color: '#000', width: 1.2 }
        }
      }
    },
    plugins: [logTitlePlugin(o.titleX), o.labels]
  })
}

makeManhattan('chartA', {
  hits: hitPoints(hitChromA, hitPosA, hitLogPA), hitColor: '#ebb16f', threshold: thresholdA, bg: bgA, low: lowA,
  padTop: 34, padRight: 6, xAxisH: 35, left: 70, chromFont: 12, chromPad: 2, titlePad: 2,
  yMax: 10, yTicks: [0, 2.5, 5, 7.5, 10], yFont: 14, yFmt: v => v.toFixed(1), titleX: 21,
  labels: hitLabelPlugin(hitGenesA, [[2,-8],[18,0],[18,0],[5,-9],[-2,-12],[5,-10],[-3,-10],[3,0]], 'left',
                         [false,true,true,false,false,false,false,false])
})

makeManhattan('chartB', {
  hits: hitPoints(hitChromB, hitPosB, hitLogPB), hitColor: '#1f5ef2', threshold: thresholdB, bg: bgB, low: lowB,
  padTop: 30, padRight: 4, xAxisH: 35, left: 58, chromFont: 11, chromPad: 2.7, titlePad: 2,
  yMax: 17, yTicks: [0, 4, 8, 12, 16], yFont: 13, yFmt: v => String(v), titleX: 24,
  labels: hitLabelPlugin(hitGenesB, [[0,7],[0,-7],[0,-7],[0,-7],[0,7],[0,7],[0,-7],[0,-7]], 'center', null)
})

// ---------- panel C ----------
const xMinC = 159.94
const xMaxC = 163.105

function geneColor(name) {
  if (blueGenes.includes(name)) return { fill: '#e3f0fa', edge: '#3a96d8', text: '#3a9ad9' }
  if (greenGenes.includes(name)) return { fill: '#36c936', edge: '#26a626', text: '#35b835' }
  return { fill: '#b4bfc3', edge: '#2f3b40', text: '#4d5559' }
}

const geneLabels = {
  id: 'geneLabels',
  beforeDatasetsDraw(chart) {
    const ctx = chart.ctx
    const meta = chart.getDatasetMeta(0)
    ctx.save()
    ctx.font = '7.5px ' + sans
    ctx.textAlign = 'right'
    ctx.textBaseline = 'middle'
    meta.data.forEach((bar, i) => {
      const left = Math.min(bar.x, bar.base)
      ctx.fillStyle = geneColor(geneNames[i]).text
      ctx.fillText(geneNames[i], left - 5, bar.y + 0.5)
    })
    ctx.restore()
  }
}

new Chart(document.getElementById('chartGenes'), {
  type: 'bar',
  data: {
    datasets: [{
      data: geneNames.map((g, i) => ({ x: [geneStart[i], geneEnd[i]], y: geneRow[i] })),
      backgroundColor: geneNames.map(g => geneColor(g).fill),
      borderColor: geneNames.map(g => geneColor(g).edge),
      borderWidth: 1.2,
      borderSkipped: false,
      barThickness: 5,
      minBarLength: 2
    }]
  },
  options: {
    indexAxis: 'y',
    responsive: false,
    animation: false,
    events: [],
    layout: { padding: { left: 72, right: 0, top: 8.9, bottom: 8.2 } },
    plugins: { legend: { display: false }, tooltip: { enabled: false } },
    scales: {
      x: { type: 'linear', min: xMinC, max: xMaxC, display: false, beginAtZero: false },
      y: { type: 'linear', min: -0.6, max: 20.6, display: false, offset: false }
    }
  },
  plugins: [geneLabels]
})

function bandPoints(vals, start, step) {
  const pts = []
  vals.forEach((v, i) => { if (v !== null) pts.push({ x: start + i * step, y: v }) })
  return pts
}

// R base-graphics style axes (only spanning the tick range)
const baseAxesC = {
  id: 'baseAxesC',
  afterDraw(chart) {
    const { ctx, chartArea: { left, bottom }, scales: { x, y } } = chart
    const yb = bottom + 2
    ctx.save()
    ctx.strokeStyle = '#000'
    ctx.lineWidth = 1.2
    ctx.beginPath()
    ctx.moveTo(x.getPixelForValue(xTicksC[0]), yb)
    ctx.lineTo(x.getPixelForValue(xTicksC[xTicksC.length - 1]), yb)
    xTicksC.forEach(v => { const px = x.getPixelForValue(v); ctx.moveTo(px, yb); ctx.lineTo(px, yb + 5) })
    ctx.moveTo(left, y.getPixelForValue(yTicksC[0]))
    ctx.lineTo(left, y.getPixelForValue(yTicksC[yTicksC.length - 1]))
    yTicksC.forEach(v => { const py = y.getPixelForValue(v); ctx.moveTo(left, py); ctx.lineTo(left - 5, py) })
    ctx.stroke()
    ctx.restore()
  }
}

new Chart(document.getElementById('chartC'), {
  type: 'scatter',
  data: {
    datasets: [
      { data: bandPoints(bandBlue, bandStartC, bandBlueStep)
          .concat(bandPoints(bandBlueLow, bandBlueLowStart, bandBlueStep))
          .concat(peakBlueX.map((x, i) => ({ x, y: peakBlueY[i] }))),
        backgroundColor: '#3a8fda', pointRadius: 2.4, order: 0 },
      { data: bandPoints(bandGray, bandStartC, bandGrayStep).concat(peakGrayX.map((x, i) => ({ x, y: peakGrayY[i] }))),
        backgroundColor: '#b3c3c5', pointRadius: 2.4, order: 1 }
    ]
  },
  options: {
    responsive: false,
    animation: false,
    events: [],
    layout: { padding: { top: 14, right: 0, left: 0, bottom: 0 } },
    elements: { point: { borderWidth: 0 } },
    plugins: { legend: { display: false }, tooltip: { enabled: false } },
    scales: {
      x: {
        type: 'linear', min: xMinC, max: xMaxC,
        afterBuildTicks: s => { s.ticks = xTicksC.map(v => ({ value: v })) },
        afterFit: s => { s.height = 57 },
        ticks: { autoSkip: false, maxRotation: 0, padding: 7.4, color: '#111',
                 font: { family: sans, size: 11.5 }, callback: v => v.toFixed(1) },
        grid: { display: false, drawTicks: false },
        border: { display: false },
        title: { display: true, text: 'chr 1 physical position (MB)', color: '#111',
                 font: { family: sans, size: 11.5 }, padding: { top: 0, bottom: 0.4 } }
      },
      y: {
        type: 'linear', min: -0.634, max: 16.37,
        afterBuildTicks: s => { s.ticks = yTicksC.map(v => ({ value: v })) },
        afterFit: s => { s.width = 72 },
        ticks: { padding: 11, color: '#111', font: { family: sans, size: 11.5 } },
        grid: { display: false, drawTicks: false },
        border: { display: false },
        title: { display: true, text: '-log10(P\u2212value)', color: '#111',
                 font: { family: sans, size: 11.5 }, padding: { top: 19.4, bottom: 0 } }
      }
    }
  },
  plugins: [baseAxesC]
})
</script>
</body>
</html>
